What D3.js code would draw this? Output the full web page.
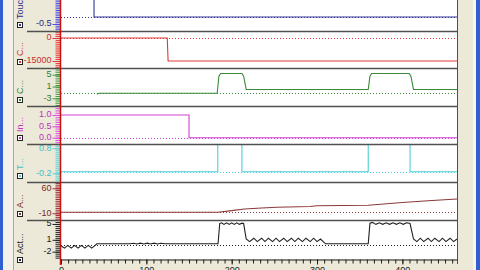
<!DOCTYPE html>
<html>
<head>
<meta charset="utf-8">
<script src="https://cdn.jsdelivr.net/npm/d3@7"></script>
<style>
  body { margin: 0; background: #ece9d8; }
  svg { display: block; font-family: "Liberation Sans", Arial, sans-serif; }
</style>
</head>
<body>
<div id="chart"></div>
<script>
// ---- data (time axis + one trace per strip) ----
const xTicks = [0, 100, 200, 300, 400];
const xMax = 464;

const panelNames = ["Touch...", "C...", "C...", "In...", "T...", "A...", "Act..."];
const panelTicks = [[-0.5, 1.5], [0, -15000], [5, 1, -3], [1.0, 0.5, 0.0], [0.8, -0.2], [60, -10], [5, 1, -2]];
const panelTickLabels = [["-0.5", "1.5"], ["0", "-15000"], ["5", "1", "-3"], ["1.0", "0.5", "0.0"], ["0.8", "-0.2"], ["60", "-10"], ["5", "1", "-2"]];
const panelDomains = [[-1, 1.714], [-19565, 4565], [-5.61, 7.27], [-0.278, 1.396], [-0.548, 0.972], [-28.8, 77.6], [-3.84, 6.0]];
const minorSteps = [0.125, 1250, 0.75, 0.1, 0.08, 5, 0.5];
const refLevels = [0, 0, -1.3, 0, -0.14, -7.3, -0.2];

const touchPts = [[0, 1.5], [38.7, 1.5], [38.7, 0], [464, 0]];
const c1Pts = [[0, 0], [124.5, 0], [125.5, -15000], [464, -15000]];
const c2Pts = [[42, -1.6], [44, -1.3], [183, -1.3], [185, 4.5], [187, 5.4], [212, 5.4], [214, 4.5], [217, 0],
  [360, 0], [362, 4.5], [364, 5.4], [408, 5.4], [410, 4.5], [413, 0], [464, 0]];
const inPts = [[0, 1], [150, 1], [150, 0], [464, 0]];
const tPts = [[0, -0.14], [183.7, -0.14], [183.7, 1.5], [212, 1.5], [212, -0.14], [360, -0.14], [360, 1.5],
  [409, 1.5], [409, -0.14], [464, -0.14]];
const aPts = [[0, -7.3], [184, -7.3], [200, -2.5], [215, 2], [235, 5], [253, 7], [292, 9], [300, 11],
  [330, 11.8], [360, 12.5], [400, 20], [430, 25], [464, 30]];
const actPts = [[0, -0.5], [4, -1.1], [8, -0.4], [12, -1.1], [16, -0.4], [20, -1.1], [24, -0.4], [28, -1.1],
  [32, -0.4], [36, -1.1], [39, -0.6], [42, 0], [81, 0], [85, 0.15], [89, -0.05], [93, 0.15], [97, -0.05],
  [101, 0.15], [105, -0.05], [109, 0.15], [113, -0.05], [117, 0.15], [122, 0], [184, 0], [186, 5.1],
  [188, 5.3], [191, 4.9], [194, 5.3], [197, 4.9], [200, 5.3], [203, 4.9], [206, 5.3], [209, 4.9], [212, 5.2],
  [214, 5.1], [217, 1.2], [221, 0.55], [226, 1.4], [230, 0.55], [235, 1.4], [239, 0.55], [243, 1.4],
  [248, 0.55], [252, 1.4], [256, 0.55], [261, 1.4], [265, 0.55], [270, 1.4], [274, 0.55], [278, 1.4],
  [283, 0.55], [287, 1.4], [292, 0.55], [296, 1.4], [300, 0.55], [304, 1.2], [310, 0], [360, 0], [362, 5.2],
  [365, 5.4], [369, 4.9], [373, 5.3], [377, 4.9], [381, 5.3], [385, 4.9], [389, 5.3], [393, 4.9], [397, 5.3],
  [401, 4.9], [405, 5.3], [409, 5.1], [413, 1.2], [417, 0.55], [421, 1.4], [425, 0.55], [430, 1.4],
  [434, 0.55], [438, 1.4], [443, 0.55], [447, 1.4], [451, 0.55], [456, 1.4], [460, 0.55], [464, 1.2]];
const panelSeries = [touchPts, c1Pts, c2Pts, inPts, tPts, aPts, actPts];

// ---- layout / style ----
const width = 480, height = 270;
const plotLeft = 61, plotRight = 457, axisY = 259;
const panelTop = [-7, 31, 68, 106, 144, 182, 220];
const panelBottom = [31, 68, 106, 144, 182, 220, 259];
const lineColors = ["#34349a", "#e03a3a", "#3a8a3a", "#d040d0", "#50d0d8", "#8c3a3a", "#202020"];
const labelColors = ["#2a2a8a", "#c83030", "#2f7f2f", "#c030c0", "#40c0c8", "#7a2a2a", "#202020"];
const combColors = ["#5050e0", "#e83838", "#3a9a3a", "#e048e0", "#58d0d8", "#a03030", "#202020"];

let svg = d3.select("#chart").append("svg")
    .attr("width", width)
    .attr("height", height);

// window chrome
svg.append("rect").attr("x", 0).attr("y", 0).attr("width", width).attr("height", height).attr("fill", "#ece9d8");
svg.append("rect").attr("x", 0).attr("y", 0).attr("width", 3).attr("height", height).attr("fill", "#2f5fd0");
svg.append("rect").attr("x", 3).attr("y", 0).attr("width", 10).attr("height", height).attr("fill", "#f2f1ea");
svg.append("line").attr("x1", 13.5).attr("x2", 13.5).attr("y1", 0).attr("y2", height).attr("stroke", "#a8a8a0");
svg.append("rect").attr("x", 473).attr("y", 0).attr("width", 3).attr("height", height).attr("fill", "#f6f5ef");
svg.append("rect").attr("x", 476).attr("y", 0).attr("width", 4).attr("height", height).attr("fill", "#2f5fd0");

// plot background
svg.append("rect")
    .attr("x", plotLeft).attr("y", 0)
    .attr("width", plotRight - plotLeft).attr("height", axisY)
    .attr("fill", "#ffffff");

let x = d3.scaleLinear().domain([0, xMax]).range([plotLeft, plotRight]);

let defs = svg.append("defs");

panelNames.forEach((name, i) => {
  let y = d3.scaleLinear().domain(panelDomains[i]).range([panelBottom[i], panelTop[i]]);

  defs.append("clipPath").attr("id", `clip${i}`)
    .append("rect")
    .attr("x", plotLeft).attr("y", panelTop[i])
    .attr("width", plotRight - plotLeft).attr("height", panelBottom[i] - panelTop[i]);

  let g = svg.append("g").attr("clip-path", `url(#clip${i})`);

  // dotted reference level
  g.append("line")
    .attr("x1", x(0)).attr("x2", x(xMax))
    .attr("y1", Math.round(y(refLevels[i])) + 0.5).attr("y2", Math.round(y(refLevels[i])) + 0.5)
    .attr("stroke", lineColors[i])
    .attr("stroke-dasharray", "1,2");

  // the trace
  g.append("path")
    .datum(panelSeries[i])
    .attr("fill", "none")
    .attr("stroke", lineColors[i])
    .attr("stroke-width", 1.1)
    .attr("d", d3.line().x(d => x(d[0])).y(d => y(d[1])));

  // minor comb
  let lo = panelDomains[i][0], hi = panelDomains[i][1], st = minorSteps[i];
  let minors = d3.range(Math.ceil(lo / st) * st, hi, st);
  let minorAxis = svg.append("g")
    .attr("transform", `translate(${plotLeft - 0.5},0)`)
    .call(d3.axisLeft(y).tickValues(minors).tickSize(5).tickFormat(""));
  minorAxis.select(".domain").remove();
  minorAxis.selectAll("line").attr("stroke", combColors[i]);

  // major ticks + labels
  let majorAxis = svg.append("g")
    .attr("transform", `translate(${plotLeft - 0.5},0)`)
    .call(d3.axisLeft(y).tickValues(panelTicks[i]).tickSize(8).tickPadding(1)
      .tickFormat((d, k) => panelTickLabels[i][k]));
  majorAxis.select(".domain").remove();
  majorAxis.selectAll("line").attr("stroke", combColors[i]);
  majorAxis.selectAll("text")
    .attr("fill", labelColors[i])
    .style("font-size", "9px")
    .style("font-family", "'Liberation Sans', Arial, sans-serif")
    .attr("dy", "0.2em");

  // strip name (rotated) and its small icon
  let iconY = (i === 6 ? 260 : panelBottom[i] - 6);
  svg.append("text")
    .attr("transform", `translate(23,${iconY - 6}) rotate(-90)`)
    .attr("fill", labelColors[i])
    .style("font-size", "9px")
    .text(name);
  svg.append("rect")
    .attr("x", 17.5).attr("y", iconY - 2.5)
    .attr("width", 5).attr("height", 5)
    .attr("fill", "#ffffff")
    .attr("stroke", "#222222");
  svg.append("rect")
    .attr("x", 19).attr("y", iconY - 1)
    .attr("width", 2).attr("height", 2)
    .attr("fill", lineColors[i]);
});

// strip separators
panelBottom.slice(0, 6).forEach(b => {
  svg.append("line")
    .attr("x1", 27).attr("x2", plotRight)
    .attr("y1", b + 0.5).attr("y2", b + 0.5)
    .attr("stroke", "#505050")
    .attr("stroke-width", 1.5);
});

// left axis line and right border
svg.append("line").attr("x1", plotLeft - 0.5).attr("x2", plotLeft - 0.5).attr("y1", 0).attr("y2", 265)
    .attr("stroke", "#cc1010").attr("stroke-width", 1.5);
svg.append("line").attr("x1", plotRight + 0.5).attr("x2", plotRight + 0.5).attr("y1", 0).attr("y2", axisY + 5)
    .attr("stroke", "#505050");

// time axis
let xMinor = svg.append("g")
    .attr("transform", `translate(0,${axisY + 0.5})`)
    .call(d3.axisBottom(x).tickValues(d3.range(0, xMax, 100 / 12)).tickSize(4).tickFormat(""));
xMinor.select(".domain").remove();
xMinor.selectAll("line").attr("stroke", "#202020");

let xAxis = svg.append("g")
    .attr("transform", `translate(0,${axisY + 0.5})`)
    .call(d3.axisBottom(x).tickValues(xTicks).tickSize(5).tickPadding(2).tickSizeOuter(0));
xAxis.select(".domain").attr("stroke", "#202020");
xAxis.selectAll("line").attr("stroke", "#202020");
xAxis.selectAll("text")
    .attr("fill", "#202020")
    .style("font-size", "9px")
    .style("font-family", "'Liberation Sans', Arial, sans-serif");
</script>
</body>
</html>
